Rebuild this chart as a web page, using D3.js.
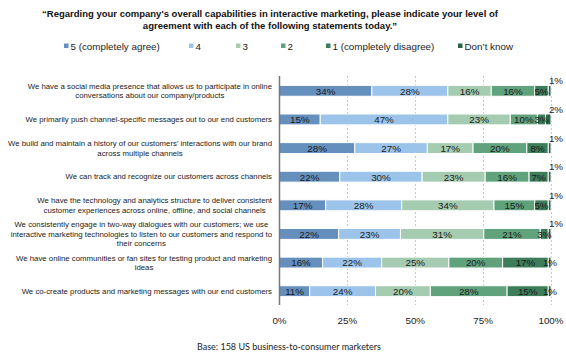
<!DOCTYPE html>
<html><head><meta charset="utf-8">
<script src="https://cdn.jsdelivr.net/npm/d3@7"></script>
<style>body{margin:0;background:#fff}svg{display:block}</style>
</head><body><svg id="c" width="566" height="361"></svg>
<script>
const titleLines = ["\u201cRegarding your company's overall capabilities in interactive marketing, please indicate your level of", "agreement with each of the following statements today.\u201d"];
const seriesNames = ["5 (completely agree)", "4", "3", "2", "1 (completely disagree)", "Don\u2019t know"];
const categories = [
  ["We have a social media presence that allows us to participate in online", "conversations about our company/products"],
  ["We primarily push channel-specific messages out to our end customers"],
  ["We build and maintain a history of our customers' interactions with our brand", "across multiple channels"],
  ["We can track and recognize our customers across channels"],
  ["We have the technology and analytics structure to deliver consistent", "customer experiences across online, offline, and social channels"],
  ["We consistently engage in two-way dialogues with our customers; we use", "interactive marketing  technologies to listen to our customers and respond to", "their concerns"],
  ["We have online communities or fan sites for testing product and marketing", "ideas"],
  ["We co-create products and marketing messages with our end customers"]
];
const agree5 =   [34, 15, 28, 22, 17, 22, 16, 11];
const agree4 =   [28, 47, 27, 30, 28, 23, 22, 24];
const agree3 =   [16, 23, 17, 23, 34, 31, 25, 20];
const agree2 =   [16, 10, 20, 16, 15, 21, 20, 28];
const agree1 =   [5, 3, 8, 7, 5, 3, 17, 15];
const dontKnow = [1, 2, 1, 1, 1, 1, 1, 1];
const ticks = [0, 25, 50, 75, 100];
const baseNote = "Base: 158 US business-to-consumer marketers";

const colors = ["#6590be", "#9cc4eb", "#a5cbb1", "#60a27c", "#3e7d5a", "#2d6447"];
const series = [agree5, agree4, agree3, agree2, agree1, dontKnow];

const svg = d3.select("#c");
const x = d3.scaleLinear().domain([0, 100]).range([279.5, 551]);
const y = d3.scaleBand().domain(d3.range(categories.length)).range([76, 305]).paddingInner(0.62).paddingOuter(0.31);

// title
svg.append("g").selectAll("text").data(titleLines).join("text")
  .attr("x", 270).attr("y", (d, i) => 17 + i * 12)
  .attr("text-anchor", "middle").attr("font-family", "Liberation Sans, Arial, sans-serif")
  .attr("font-size", 9.5).attr("font-weight", "bold").attr("fill", "#111").text(d => d);

// legend
const legendX = [64, 189, 236, 281, 326, 458];
const lg = svg.append("g").selectAll("g").data(seriesNames).join("g")
  .attr("transform", (d, i) => `translate(${legendX[i]},47)`);
lg.append("rect").attr("x", 0).attr("y", -3.5).attr("width", 4.5).attr("height", 4.5).attr("fill", (d, i) => colors[i]);
lg.append("text").attr("x", 6.5).attr("y", 0).attr("dy", "0.35em")
  .attr("font-family", "Liberation Sans, Arial, sans-serif").attr("font-size", 9.8).attr("fill", "#222").text(d => d);

// gridlines
svg.append("g").selectAll("line").data(ticks.slice(1)).join("line")
  .attr("x1", d => Math.round(x(d)) + 0.5).attr("x2", d => Math.round(x(d)) + 0.5)
  .attr("y1", 76).attr("y2", 305)
  .attr("stroke", "#c8c8c8").attr("stroke-width", 1).attr("stroke-dasharray", "2,2");

// stacked data (100% normalized)
const rows = categories.map((c, i) => {
  const vals = series.map(s => s[i]);
  const tot = d3.sum(vals);
  let acc = 0;
  return vals.map((v, k) => { const s0 = acc; acc += v; return {row: i, k, v, x0: s0 / tot * 100, x1: acc / tot * 100}; });
});
const segs = rows.flat();
const bh = y.bandwidth();

svg.append("g").selectAll("rect").data(segs).join("rect")
  .attr("x", d => x(d.x0)).attr("width", d => x(d.x1) - x(d.x0))
  .attr("y", d => y(d.row) + 0.5).attr("height", bh)
  .attr("fill", d => colors[d.k]).attr("stroke", "#fff").attr("stroke-width", 1);

// value labels
svg.append("g").selectAll("text").data(segs).join("text")
  .attr("x", d => {
    if (d.k === 5) return (d.row >= 6) ? x(d.x1) - 1 : x(d.x1) + 5;
    return (x(d.x0) + x(d.x1)) / 2;
  })
  .attr("y", d => (d.k === 5 && d.row < 6) ? y(d.row) - 4 : y(d.row) + bh / 2 + 1)
  .attr("dy", "0.35em").attr("text-anchor", "middle")
  .attr("font-family", "Liberation Sans, Arial, sans-serif").attr("font-size", 9.8).attr("fill", "#1a1a1a")
  .text(d => d.v + "%");

// axis line
svg.append("line").attr("x1", 279.5).attr("x2", 279.5).attr("y1", 76).attr("y2", 305)
  .attr("stroke", "#777").attr("stroke-width", 1.5);

// tick labels
svg.append("g").selectAll("text").data(ticks).join("text")
  .attr("x", d => x(d)).attr("y", 321).attr("dy", "0.35em").attr("text-anchor", "middle")
  .attr("font-family", "Liberation Sans, Arial, sans-serif").attr("font-size", 9.8).attr("fill", "#222")
  .text(d => d + "%");

// category labels: lines centered within block, block right-aligned at 272
const lh = 9.5;
const catG = svg.append("g").attr("font-family", "Liberation Sans, Arial, sans-serif").attr("font-size", 7.8).attr("fill", "#222");
categories.forEach((lines, i) => {
  const g = catG.append("g");
  const cy = y(i) + bh / 2 + 0.5;
  const ts = g.selectAll("text").data(lines).join("text")
    .attr("y", (d, j) => cy + (j - (lines.length - 1) / 2) * lh).attr("dy", "0.35em")
    .attr("text-anchor", "middle").text(d => d);
  let w = 0;
  ts.each(function() { w = Math.max(w, this.getComputedTextLength()); });
  ts.attr("x", 272 - w / 2);
});

// base note
svg.append("text").attr("x", 197).attr("y", 347).attr("dy", "0.35em")
  .attr("font-family", "Lato, Carlito, sans-serif").attr("font-size", 9).attr("fill", "#222").text(baseNote);
</script></body></html>
